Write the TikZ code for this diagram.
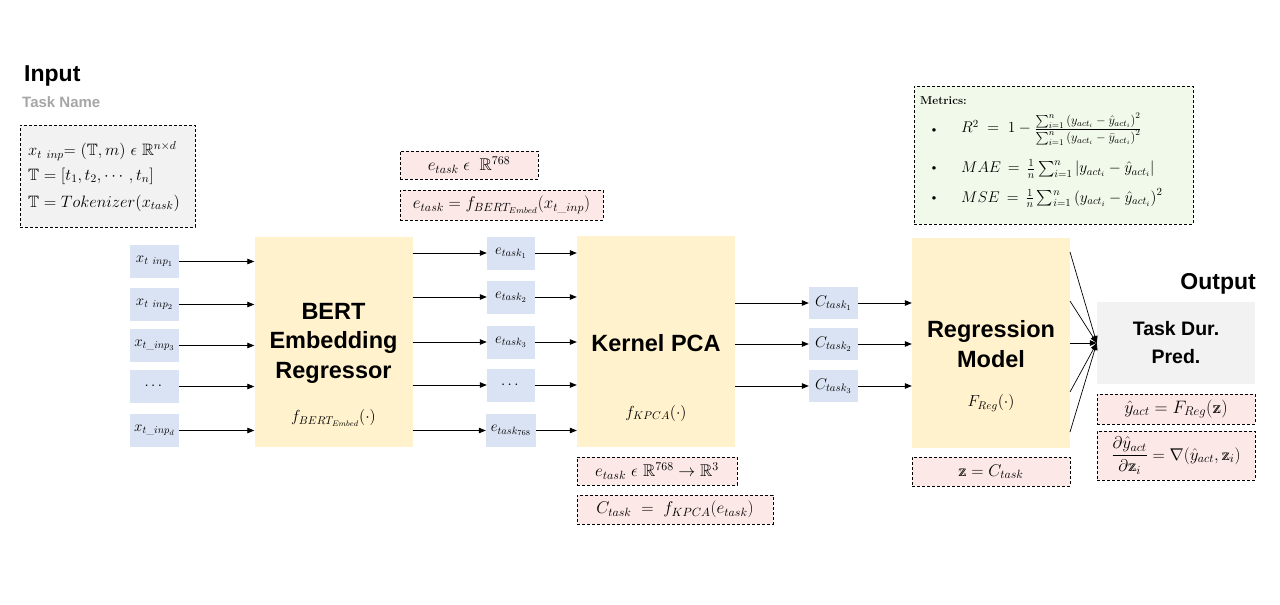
\RequirePackage{fix-cm}
\documentclass[tikz,border=0pt]{standalone}
\usepackage{amsmath,amssymb}
\usepackage{fontspec}
\newfontfamily\arialf{Liberation Sans}
\usetikzlibrary{arrows.meta}
\definecolor{bluef}{HTML}{DAE3F3}
\definecolor{yellowf}{HTML}{FFF2CC}
\definecolor{pinkf}{HTML}{FDE8E8}
\definecolor{greenf}{HTML}{F1FAEA}
\definecolor{grayf}{HTML}{F2F2F2}
\definecolor{graytxt}{HTML}{A6A6A6}
\newcommand{\bbz}{\mathord{\rlap{$\mathrm{z}$}\kern0.08em\mathrm{z}}}
\newcommand{\fracpart}[1]{\text{\fontsize{12.5}{14}\selectfont$#1$}}
\tikzset{
  blk/.style={fill=yellowf, minimum width=158, minimum height=210, inner sep=0},
  smallbox/.style={fill=bluef, minimum width=49, minimum height=33, inner sep=0, font=\fontsize{15}{17}\selectfont},
  dbox/.style={draw, line width=0.8pt, dash pattern=on 3pt off 2pt, inner sep=0},
  pinkbox/.style={dbox, fill=pinkf, font=\fontsize{17}{20}\selectfont},
  arr/.style={-{Triangle[length=7pt,width=5.5pt]}, line width=0.8pt},
  bigtxt/.style={font=\arialf\bfseries\fontsize{23.5}{29.5}\selectfont, align=center},
  fntxt/.style={font=\fontsize{16}{19}\selectfont},
  mtxt/.style={font=\fontsize{16.5}{19}\selectfont, anchor=west, inner sep=0}
}
\begin{document}
\begin{tikzpicture}[x=1pt,y=-1pt]
\useasboundingbox (0,0) rectangle (1280,605);
% Input
\node[anchor=base west, inner sep=0, font=\arialf\bfseries\fontsize{23}{27}\selectfont] (intitle) at (24,81) {Input};
\node[anchor=base west, inner sep=0, text=graytxt, font=\arialf\bfseries\fontsize{15}{18}\selectfont] (tname) at (22,107) {Task Name};
\node[dbox, fill=grayf, minimum width=175, minimum height=102] (inbox) at (107.5,176) {};
\node[mtxt] (l1) at (28,151) {$x_{t\ inp}$= $(\mathbb{T},m)\ \epsilon\ \mathbb{R}^{n\times d}$};
\node[mtxt] (l2) at (28,176) {$\mathbb{T}=[t_1,t_2,\cdots,t_n]$};
\node[mtxt] (l3) at (28,203) {$\mathbb{T}=Tokenizer(x_{task})$};
% input vectors
\node[smallbox] (x1) at (154.5,261.5) {$x_{t\ inp_1}$};
\node[smallbox] (x2) at (154.5,304.5) {$x_{t\ inp_2}$};
\node[smallbox] (x3) at (154.5,345.5) {$x_{t\_inp_3}$};
\node[smallbox] (x4) at (154.5,386.5) {$\cdots$};
\node[smallbox] (x5) at (154.5,430.5) {$x_{t\_inp_d}$};
% BERT
\node[blk] (bert) at (333.5,342) {};
\node[bigtxt] (berttxt) at (333.5,343) {BERT\\Embedding\\Regressor};
\node[fntxt] (bertf) at (333.5,418) {$f_{BERT_{Embed}}(\cdot)$};
\foreach \i in {1,...,5} \draw[arr] (x\i.east) -- (x\i.east -| bert.west);
% pink boxes top
\node[pinkbox, minimum width=138, minimum height=28] (pe1) at (469,165) {$e_{task}\;\epsilon\;\;\mathbb{R}^{768}$};
\node[pinkbox, minimum width=203, minimum height=30] (pe2) at (501.5,205) {$e_{task}=f_{BERT_{Embed}}(x_{t\_inp})$};
% e vectors
\node[smallbox, minimum width=48] (e1) at (511,253) {$e_{task_1}$};
\node[smallbox, minimum width=48] (e2) at (511,297) {$e_{task_2}$};
\node[smallbox, minimum width=48] (e3) at (511,342) {$e_{task_3}$};
\node[smallbox, minimum width=48] (e4) at (511,385) {$\cdots$};
\node[smallbox, minimum width=50] (e5) at (511,430.5) {$e_{task_{768}}$};
% KPCA
\node[blk, minimum height=211] (kpca) at (656,341.5) {};
\node[bigtxt] (kpcatxt) at (656,343) {Kernel PCA};
\node[fntxt] (kpcaf) at (656,413) {$f_{KPCA}(\cdot)$};
\foreach \i in {1,...,5} {
  \draw[arr] (e\i.west -| bert.east) -- (e\i.west);
  \draw[arr] (e\i.east) -- (e\i.east -| kpca.west);
}
\node[pinkbox, minimum width=160, minimum height=28] (pk1) at (657,471) {$e_{task}\ \epsilon\ \mathbb{R}^{768}\rightarrow\mathbb{R}^3$};
\node[pinkbox, minimum width=196, minimum height=29] (pk2) at (675,509.5) {$C_{task}\ =\ f_{KPCA}(e_{task})$};
% C vectors
\node[smallbox, minimum height=32, font=\fontsize{15.5}{18}\selectfont] (c1) at (833.5,303) {$C_{task_1}$};
\node[smallbox, minimum height=32, font=\fontsize{15.5}{18}\selectfont] (c2) at (833.5,344) {$C_{task_2}$};
\node[smallbox, minimum height=32, font=\fontsize{15.5}{18}\selectfont] (c3) at (833.5,386) {$C_{task_3}$};
% Regression
\node[blk] (reg) at (991,343) {};
\node[bigtxt] (regtxt) at (991,344) {Regression\\Model};
\node[fntxt] (regf) at (991,403) {$F_{Reg}(\cdot)$};
\foreach \i in {1,2,3} {
  \draw[arr] (c\i.west -| kpca.east) -- (c\i.west);
  \draw[arr] (c\i.east) -- (c\i.east -| reg.west);
}
\node[pinkbox, minimum width=158, minimum height=29] (pz) at (991,471.5) {$\bbz=C_{task}$};
% Metrics
\node[dbox, fill=greenf, minimum width=279, minimum height=138] (metrics) at (1053.5,155) {};
\node[anchor=base west, inner sep=0, font=\bfseries\fontsize{11.5}{13}\selectfont] (mtitle) at (920,104) {Metrics:};
\node[inner sep=0, font=\fontsize{13}{14}\selectfont] (b1) at (934,131) {\textbullet};
\node[inner sep=0, font=\fontsize{13}{14}\selectfont] (b2) at (934,169) {\textbullet};
\node[inner sep=0, font=\fontsize{13}{14}\selectfont] (b3) at (934,199) {\textbullet};
\node[mtxt, font=\fontsize{15.5}{18}\selectfont] (m1) at (961,129) {$R^2\;=\;1-\frac{\fracpart{\sum_{i=1}^{n}\left(y_{act_i}-\hat{y}_{act_i}\right)^2}}{\fracpart{\sum_{i=1}^{n}\left(y_{act_i}-\bar{y}_{act_i}\right)^2}}$};
\node[mtxt, font=\fontsize{15.5}{18}\selectfont] (m2) at (961,169) {$MAE\,=\,\frac{1}{n}\sum_{i=1}^{n}\left|y_{act_i}-\hat{y}_{act_i}\right|$};
\node[mtxt, font=\fontsize{15.5}{18}\selectfont] (m3) at (961,198) {$MSE\,=\,\frac{1}{n}\sum_{i=1}^{n}\left(y_{act_i}-\hat{y}_{act_i}\right)^2$};
% Output
\node[anchor=base east, inner sep=0, font=\arialf\bfseries\fontsize{23}{27}\selectfont] (outtitle) at (1256,289) {Output};
\node[fill=grayf, minimum width=158, minimum height=82, inner sep=0, font=\arialf\bfseries\fontsize{19.5}{28}\selectfont, align=center] (task) at (1176,343) {Task Dur.\\Pred.};
\node[pinkbox, minimum width=158, minimum height=30, font=\fontsize{18}{20}\selectfont] (py) at (1176,409) {$\hat{y}_{act}=F_{Reg}(\bbz)$};
\node[pinkbox, minimum width=158, minimum height=49, font=\fontsize{17}{20}\selectfont] (pd) at (1176,455.5) {$\dfrac{\partial\hat{y}_{act}}{\partial\bbz_i}=\nabla(\hat{y}_{act},\bbz_i)$};
\coordinate (r1) at (1070,252);
\coordinate (r2) at (1070,301);
\coordinate (r3) at (1070,343);
\coordinate (r4) at (1070,392);
\coordinate (r5) at (1070,432);
\foreach \i in {1,...,5} \draw[arr, line width=0.7pt] (r\i) -- (task.west);
\end{tikzpicture}
\end{document}
